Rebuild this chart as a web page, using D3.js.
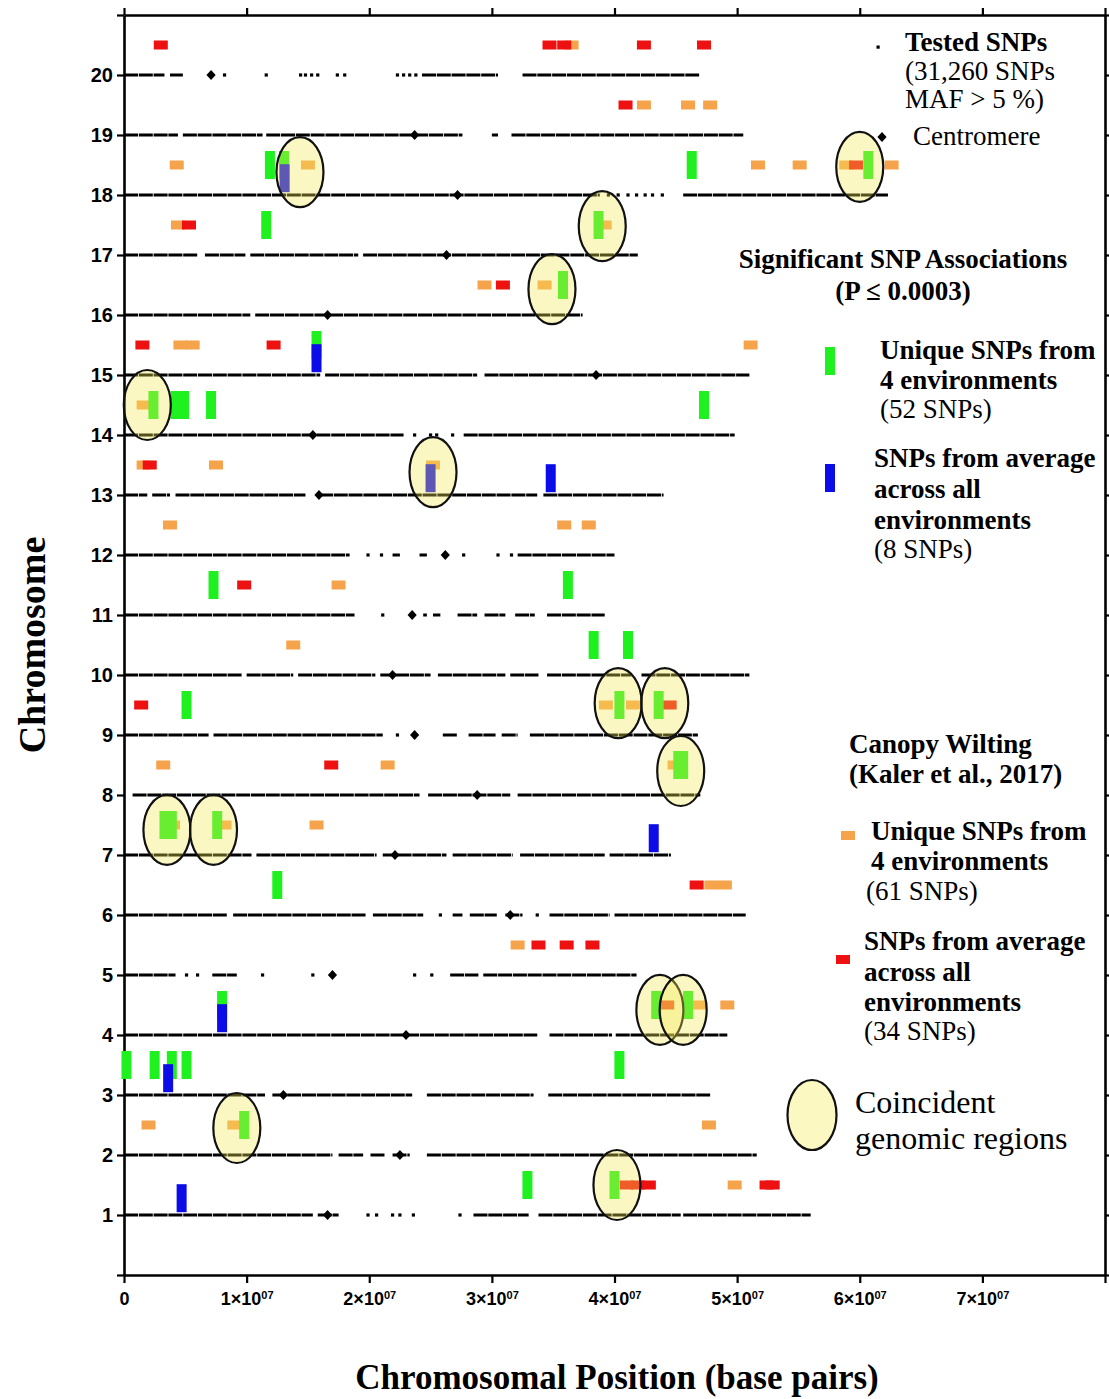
<!DOCTYPE html>
<html>
<head>
<meta charset="utf-8">
<script src="https://cdn.jsdelivr.net/npm/d3@7"></script>
<style>
  html, body { margin: 0; padding: 0; background: #fff; }
  svg { display: block; }
</style>
</head>
<body>
<svg id="chart" width="1109" height="1399"></svg>
<script>
// ---- data (positions in Mb) ----
const chromosomes = d3.range(1, 21);
const xTickValues = d3.range(0, 8e7 + 1, 1e7);

// Tested-SNP coverage: [chromosome, start, end]; a missing end marks an isolated SNP
const coverage = [
  [1, 0, 15.4], [1, 15.8, 17.5], [1, 19.9], [1, 20.6], [1, 21.9], [1, 22.5], [1, 23.6], [1, 27.4],
  [1, 28.5, 33.0], [1, 33.8, 45.4], [1, 45.6, 56.0],
  [2, 0, 17.0], [2, 17.5, 19.5], [2, 20.1, 21.3], [2, 21.9, 23.3], [2, 24.7, 51.6],
  [3, 0, 11.5], [3, 12.1, 23.5], [3, 24.7, 33.4], [3, 34.6, 47.8],
  [4, 0, 33.7], [4, 34.7, 39.8], [4, 40.1, 49.2],
  [5, 0, 4.2], [5, 5.1], [5, 6.0], [5, 7.2, 9.2], [5, 11.3], [5, 15.4], [5, 23.7], [5, 25.1],
  [5, 26.6, 28.9], [5, 29.3, 41.8],
  [6, 0, 8.4], [6, 8.9, 19.7], [6, 20.3, 24.4], [6, 25.8], [6, 26.8, 27.6], [6, 28.2, 30.4],
  [6, 31.1, 32.5], [6, 33.7], [6, 34.7, 39.6], [6, 40.0, 50.7],
  [7, 0, 10.4], [7, 10.8, 20.6], [7, 21.1, 26.3], [7, 26.8, 31.7], [7, 32.3, 39.2], [7, 39.6, 44.6],
  [8, 0.7, 24.1], [8, 24.8, 31.5], [8, 32.1, 47.0],
  [9, 0, 6.9], [9, 7.3, 21.1], [9, 22.3], [9, 26.0, 27.2], [9, 28.1, 30.3], [9, 30.8, 32.1], [9, 33.1, 46.8],
  [10, 0, 9.6], [10, 10.0, 13.8], [10, 14.2, 20.5], [10, 20.9, 25.0], [10, 25.6, 31.1],
  [10, 31.5, 33.8], [10, 34.5, 41.4], [10, 42.2, 51.0],
  [11, 0, 18.8], [11, 21.1], [11, 24.4, 24.7], [11, 25.2, 25.8], [11, 27.2, 28.8], [11, 29.4, 31.1],
  [11, 31.9, 33.5], [11, 34.5, 39.2],
  [12, 0, 18.4], [12, 19.9], [12, 21.0], [12, 21.9, 22.5], [12, 24.1, 24.7], [12, 27.7], [12, 30.5],
  [12, 31.6], [12, 32.1, 40.0],
  [13, 0, 1.9], [13, 2.3, 3.75], [13, 4.2, 14.8], [13, 15.9, 33.7], [13, 34.2, 44.0],
  [14, 0, 22.8], [14, 23.7], [14, 25.0], [14, 25.5], [14, 26.8], [14, 27.7, 49.8],
  [15, 0, 16.0], [15, 16.4, 28.8], [15, 29.4, 51.0],
  [16, 0, 10.3], [16, 10.7, 37.4],
  [17, 0, 6.0], [17, 6.6, 9.9], [17, 10.3, 19.1], [17, 19.5, 41.9],
  [18, 0, 38.8], [18, 39.5], [18, 40.3], [18, 41.1], [18, 41.8], [18, 42.5], [18, 43.1], [18, 43.9],
  [18, 45.6, 62.3],
  [19, 0, 4.4], [19, 4.8, 11.3], [19, 11.6, 27.6], [19, 30.0, 30.5], [19, 31.6, 50.5],
  [20, 0, 3.3], [20, 3.75, 4.8], [20, 8.2], [20, 11.6], [20, 14.4], [20, 14.8], [20, 15.3], [20, 15.8],
  [20, 17.4], [20, 18.0], [20, 22.3], [20, 22.8], [20, 23.3], [20, 23.8], [20, 24.3, 30.5], [20, 32.5, 46.9]
];

// Centromere position of chromosomes 1..20
const centromeres = [16.6, 22.5, 13.0, 23.0, 17.0, 31.5, 22.1, 28.8, 23.7, 21.9,
                     23.5, 26.2, 15.9, 15.4, 38.5, 16.6, 26.3, 27.2, 23.7, 7.1];

// Significant SNPs, this study: unique to one of 4 environments
const uniqueEnvSnps = [
  [18, 11.9], [18, 13.05], [18, 46.3], [18, 60.7], [17, 11.6], [17, 38.7], [16, 35.8], [15, 15.7],
  [14, 2.4], [14, 4.2], [14, 4.9], [14, 7.1], [14, 47.3], [11, 7.3], [11, 36.2], [10, 38.3], [10, 41.1],
  [9, 5.1], [9, 40.4], [9, 43.6], [8, 45.2], [8, 45.6], [7, 3.3], [7, 3.9], [7, 7.6], [6, 12.5],
  [4, 8.0], [4, 43.4], [4, 46.0], [3, 0.2], [3, 2.5], [3, 3.9], [3, 5.1], [3, 40.4], [2, 9.8],
  [1, 32.9], [1, 40.0]
];

// Significant SNPs, this study: average across all environments
const averageEnvSnps = [
  [18, 13.1], [15, 15.7], [13, 25.0], [13, 34.8], [7, 43.2], [4, 8.0], [3, 3.6], [1, 4.7]
];

// Canopy wilting (Kaler et al., 2017): unique to one of 4 environments
const wiltUniqueSnps = [
  [20, 36.5], [19, 42.4], [19, 46.0], [19, 47.8], [18, 4.3], [18, 15.0], [18, 51.7], [18, 55.1],
  [18, 58.9], [18, 62.6], [17, 4.4], [17, 39.2], [16, 29.4], [16, 34.3], [15, 4.6], [15, 5.6],
  [15, 51.1], [14, 1.6], [13, 1.6], [13, 7.5], [13, 25.2], [12, 3.75], [12, 35.9], [12, 37.9],
  [11, 17.5], [10, 13.8], [9, 39.3], [9, 41.5], [8, 3.2], [8, 21.5], [8, 44.9], [7, 4.0], [7, 8.2],
  [7, 15.7], [6, 47.9], [6, 49.0], [5, 32.1], [4, 46.9], [4, 49.2], [2, 2.0], [2, 9.0], [2, 47.7],
  [1, 49.8]
];

// Canopy wilting (Kaler et al., 2017): average across all environments
const wiltAverageSnps = [
  [20, 3.0], [20, 34.7], [20, 35.9], [20, 42.4], [20, 47.3], [19, 40.9], [18, 59.7], [17, 5.3],
  [16, 30.9], [15, 1.5], [15, 12.2], [13, 2.1], [11, 9.8], [9, 1.4], [9, 44.5], [8, 16.9],
  [6, 46.7], [5, 33.8], [5, 36.1], [5, 38.2], [4, 44.3], [1, 41.0], [1, 41.9], [1, 42.8],
  [1, 52.4], [1, 52.9]
];

// Coincident genomic regions: [chromosome band value, position]
const coincidentRegions = [
  [18.38, 14.35], [18.47, 60.0], [17.48, 39.0], [16.43, 34.9], [14.5, 1.9], [13.38, 25.2],
  [9.53, 40.3], [9.53, 44.1], [8.4, 45.4], [7.42, 3.5], [7.42, 7.3], [4.42, 43.7], [4.42, 45.6],
  [2.45, 9.2], [1.5, 40.2]
];

// ---- drawing ----
const MB = 1e6;
const svg = d3.select("#chart");
const x = d3.scaleLinear().domain([0, 8e7]).range([124, 1105]);
const y = d3.scaleLinear().domain([0, 21]).range([1275, 15]);

const SERIF = "'Liberation Serif', 'Times New Roman', Times, serif";
const SANS = "'Liberation Sans', Arial, Helvetica, sans-serif";
const C = { green: "#1ff01f", blue: "#0c0ce8", orange: "#f6a44c", red: "#ee1111",
            ellipse: "#f3e854", ellipseSolid: "#fcf8c2" };
const LEGEND_SIZE = 27;

// axes
const axisStyle = g => {
  g.select(".domain").attr("stroke", "#000").attr("stroke-width", 2.6);
  g.selectAll(".tick line").attr("stroke", "#000").attr("stroke-width", 2.2);
};

const gLeft = svg.append("g").attr("transform", `translate(${x(0)},0)`)
  .call(d3.axisLeft(y).tickValues(d3.range(0, 22)).tickSize(7).tickSizeOuter(0).tickPadding(4)
    .tickFormat(d => (d >= 1 && d <= 20) ? d : ""))
  .call(axisStyle);
gLeft.selectAll(".tick text").attr("font-family", SANS).attr("font-weight", "bold")
  .attr("font-size", 20).attr("fill", "#000");

svg.append("g").attr("transform", `translate(${x(8e7)},0)`)
  .call(d3.axisRight(y).tickValues(d3.range(0, 22)).tickSize(6).tickSizeOuter(0).tickFormat(""))
  .call(axisStyle);

svg.append("g").attr("transform", `translate(0,${y(21)})`)
  .call(d3.axisTop(x).tickValues(xTickValues).tickSize(7).tickSizeOuter(0).tickFormat(""))
  .call(axisStyle);

const gBottom = svg.append("g").attr("transform", `translate(0,${y(0)})`)
  .call(d3.axisBottom(x).tickValues(xTickValues).tickSize(8).tickSizeOuter(0).tickPadding(9).tickFormat(""))
  .call(axisStyle);
gBottom.selectAll(".tick text")
  .attr("font-family", SANS).attr("font-weight", "bold").attr("font-size", 18).attr("fill", "#000")
  .each(function (d) {
    const t = d3.select(this);
    if (d === 0) { t.text("0"); return; }
    if (d >= 8e7) return;
    t.append("tspan").text(`${d / 1e7}\u00d710`);
    t.append("tspan").attr("dy", "-0.5em").attr("font-size", 11).text("07");
  });

// chromosome coverage lines
const gCov = svg.append("g");
gCov.selectAll("line").data(coverage.filter(d => d.length === 3)).join("line")
  .attr("x1", d => x(d[1] * MB)).attr("x2", d => x(d[2] * MB))
  .attr("y1", d => y(d[0])).attr("y2", d => y(d[0]))
  .attr("stroke", "#000").attr("stroke-width", 3)
  .attr("stroke-dasharray", "14 0.8");
gCov.selectAll("rect").data(coverage.filter(d => d.length === 2)).join("rect")
  .attr("x", d => x(d[1] * MB) - 1.6).attr("y", d => y(d[0]) - 1.6)
  .attr("width", 3.2).attr("height", 3.2).attr("fill", "#000");

// centromeres
const diamond = "M0,-5L4.6,0L0,5L-4.6,0Z";
svg.append("g").selectAll("path").data(chromosomes).join("path")
  .attr("d", diamond)
  .attr("transform", c => `translate(${x(centromeres[c - 1] * MB)},${y(c)})`)
  .attr("fill", "#000");

// SNP markers
const hBar = (data, color) => svg.append("g").selectAll("rect").data(data).join("rect")
  .attr("x", d => x(d[1] * MB) - 7).attr("y", d => y(d[0] + 0.5) - 4.5)
  .attr("width", 14).attr("height", 9).attr("fill", color);
const vBar = (data, color, offset) => svg.append("g").selectAll("rect").data(data).join("rect")
  .attr("x", d => x(d[1] * MB) - 5).attr("y", d => y(d[0] + offset) - 14)
  .attr("width", 10).attr("height", 28).attr("fill", color);

hBar(wiltUniqueSnps, C.orange);
hBar(wiltAverageSnps, C.red);
vBar(uniqueEnvSnps, C.green, 0.5);
vBar(averageEnvSnps, C.blue, 0.28);

// coincident regions (translucent overlay)
svg.append("g").selectAll("ellipse").data(coincidentRegions).join("ellipse")
  .attr("cx", d => x(d[1] * MB)).attr("cy", d => y(d[0]))
  .attr("rx", 23.5).attr("ry", 35)
  .attr("fill", C.ellipse).attr("fill-opacity", 0.35)
  .attr("stroke", "#111").attr("stroke-width", 2.2);

// ---- legend ----
const leg = svg.append("g");
const txt = (s, px, py, opt = {}) => leg.append("text")
  .attr("x", px).attr("y", py)
  .attr("font-family", opt.family || SERIF)
  .attr("font-weight", opt.bold ? "bold" : "normal")
  .attr("font-size", opt.size || LEGEND_SIZE)
  .attr("text-anchor", opt.anchor || "start")
  .attr("fill", "#000").text(s);

leg.append("rect").attr("x", 876.5).attr("y", 45.5).attr("width", 3.2).attr("height", 3.2).attr("fill", "#000");
txt("Tested SNPs", 905, 51, { bold: true });
txt("(31,260 SNPs", 905, 80);
txt("MAF > 5 %)", 905, 108);
leg.append("path").attr("d", diamond).attr("transform", "translate(882,137)").attr("fill", "#000");
txt("Centromere", 913, 145);

txt("Significant SNP Associations", 903, 268, { bold: true, anchor: "middle" });
txt("(P \u2264 0.0003)", 903, 300, { bold: true, anchor: "middle" });

leg.append("rect").attr("x", 825).attr("y", 347).attr("width", 10).attr("height", 28).attr("fill", C.green);
txt("Unique SNPs from", 880, 359, { bold: true });
txt("4 environments", 880, 389, { bold: true });
txt("(52 SNPs)", 880, 418);

leg.append("rect").attr("x", 825).attr("y", 464).attr("width", 10).attr("height", 28).attr("fill", C.blue);
txt("SNPs from average", 874, 467, { bold: true });
txt("across all", 874, 498, { bold: true });
txt("environments", 874, 529, { bold: true });
txt("(8 SNPs)", 874, 558);

txt("Canopy Wilting", 849, 753, { bold: true });
txt("(Kaler et al., 2017)", 849, 783, { bold: true });

leg.append("rect").attr("x", 841).attr("y", 831).attr("width", 14).attr("height", 9).attr("fill", C.orange);
txt("Unique SNPs from", 871, 840, { bold: true });
txt("4 environments", 871, 870, { bold: true });
txt("(61 SNPs)", 866, 900);

leg.append("rect").attr("x", 836).attr("y", 955).attr("width", 14).attr("height", 9).attr("fill", C.red);
txt("SNPs from average", 864, 950, { bold: true });
txt("across all", 864, 981, { bold: true });
txt("environments", 864, 1011, { bold: true });
txt("(34 SNPs)", 864, 1040);

leg.append("ellipse").attr("cx", 812).attr("cy", 1115).attr("rx", 24.5).attr("ry", 35)
  .attr("fill", C.ellipseSolid).attr("stroke", "#111").attr("stroke-width", 2.2);
txt("Coincident", 855, 1113, { size: 32 });
txt("genomic regions", 855, 1149, { size: 32 });

// axis titles
svg.append("text").attr("transform", "translate(45,645) rotate(-90)")
  .attr("text-anchor", "middle").attr("font-family", SERIF).attr("font-weight", "bold")
  .attr("font-size", 38).attr("fill", "#000").text("Chromosome");
svg.append("text").attr("x", 617).attr("y", 1389)
  .attr("text-anchor", "middle").attr("font-family", SERIF).attr("font-weight", "bold")
  .attr("font-size", 35).attr("fill", "#000").text("Chromosomal Position (base pairs)");
</script>
</body>
</html>
